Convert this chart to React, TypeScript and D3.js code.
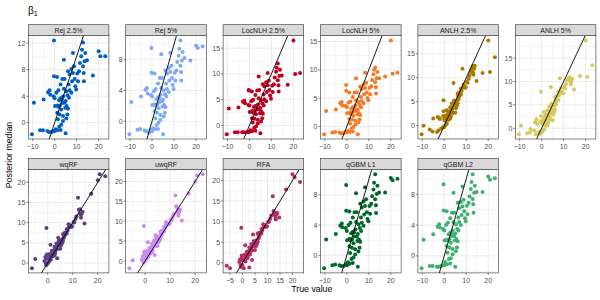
import * as d3 from "d3";

// true values (shared by the ABC-type panels)
const trueValue = [
  -10.3, -9.4, -6.6, -5.3, -5.0, -3.3, -3.0, -2.6, -2.3, -2.0, -1.4, -0.6, -0.5, -0.3, -0.3, 0.0, 0.0, 0.15,
  0.5, 0.8, 1.1, 1.2, 1.2, 1.2, 1.5, 1.7, 1.7, 2.0, 2.1, 2.3, 2.4, 2.7, 2.7, 2.7, 3.0, 3.0, 3.3, 3.5, 3.5,
  3.8, 3.8, 3.9, 4.2, 4.2, 4.5, 4.5, 4.8, 5.0, 5.0, 5.3, 5.3, 5.5, 5.8, 5.9, 6.1, 6.1, 6.4, 6.5, 6.8, 6.8,
  7.6, 7.6, 7.9, 8.3, 8.3, 8.8, 9.1, 9.4, 9.8, 10.3, 10.6, 11.1, 11.5, 12.1, 12.4, 12.9, 12.9, 13.2, 13.3,
  13.6, 13.9, 14.7, 17.4, 20.0, 20.8, 23.0,
];
// true values for the random forest panels
const trueValueRF = [-6.3, -5.0, -1.3, -1.0, -0.8, -0.5, -0.2, ...trueValue.slice(11)];

const rej25 = [
  -1.75, 3.0, -1.15, -1.15, 3.5, -1.25, 4.6, -1.4, 4.9, 4.2, -1.4, -1.25, 4.0, 12.4, 7.0, -1.25, 3.7, 2.5,
  -1.0, 4.5, 6.9, -1.15, 2.6, 1.5, 0.5, 2.4, 4.9, 3.4, -0.6, 1.25, 2.6, -1.1, 3.7, 5.75, -0.3, 2.0, 3.5, 2.95,
  6.6, 1.0, 0.25, 4.0, 5.1, 9.5, 6.6, 3.0, 2.25, -1.6, 3.25, 0.65, 4.75, 2.5, 1.25, 4.15, 7.75, 2.1, 5.75,
  3.75, 7.25, 4.9, 8.1, 4.5, 6.25, 10.5, 7.5, 8.5, 6.6, 5.5, 5.0, 7.4, 6.25, 7.75, 9.0, 10.0, 11.0, 12.1,
  8.5, 7.5, 6.25, 9.25, 10.5, 9.4, 7.1, 10.75, 10.0, 10.0,
];
const rej5 = [
  -1.7, 2.5, -1.1, -1.0, 3.2, -1.2, 4.1, -1.3, 4.3, 3.6, -1.5, -1.1, 3.4, 9.5, 6.3, -1.3, 3.2, 2.1, -0.9,
  3.9, 6.2, -1.0, 2.2, 1.3, 0.4, 2.0, 4.2, 2.9, -0.5, 1.1, 2.2, -1.0, 3.1, 4.9, -0.2, 1.7, 3.0, 2.5, 5.6,
  0.8, 0.2, 3.4, 4.3, 8.7, 5.6, 2.6, 1.9, -1.7, 2.8, 0.6, 4.0, 2.1, 1.1, 3.5, 6.6, 1.8, 4.9, 3.2, 6.2, 4.2,
  6.9, 3.8, 5.3, 8.9, 6.4, 7.2, 5.6, 4.7, 4.2, 6.3, 5.3, 6.6, 7.7, 8.5, 9.4, 10.5, 7.2, 6.4, 5.3, 7.9, 9.0,
  8.2, 7.9, 9.8, 9.5, 9.7,
];
const locnlh25 = [
  -1.7, 3.3, -1.3, -1.3, 3.5, -1.3, 4.6, -1.3, 4.8, 4.3, -1.3, -1.3, 4.0, 6.8, 6.9, -1.2, 3.9, 2.6, -0.9,
  4.7, 6.6, -1.1, 2.8, 1.4, 0.6, 2.5, 5.0, 3.6, -0.5, 1.3, 2.8, -1.0, 3.8, 5.9, -0.2, 2.2, 3.6, 3.1, 6.8,
  1.1, 0.4, 4.1, 5.3, 9.5, 6.9, 3.2, 2.4, -1.5, 3.4, 0.8, 4.9, 2.7, 1.4, 4.3, 8.0, 2.3, 6.0, 3.9, 7.6, 5.1,
  8.4, 4.7, 6.5, 10.2, 7.8, 8.7, 6.9, 5.8, 5.2, 7.7, 6.5, 8.0, 9.3, 10.4, 11.2, 12.0, 8.8, 7.8, 6.6, 9.6,
  10.8, 9.7, 7.9, 16.5, 10.0, 10.2,
];
const locnlh5 = [
  -1.4, 2.7, -1.1, -1.0, 3.0, -1.1, 4.1, -1.2, 4.3, 3.7, -1.2, -1.0, 3.6, 7.3, 6.3, -1.1, 3.4, 2.3, -0.8,
  4.2, 6.0, -1.0, 2.4, 1.3, 0.5, 2.2, 4.4, 3.1, -0.4, 1.2, 2.4, -0.9, 3.4, 5.2, -0.1, 1.9, 3.2, 2.7, 6.0,
  1.0, 0.3, 3.7, 4.6, 8.5, 6.0, 2.8, 2.1, -1.4, 3.0, 0.7, 4.3, 2.3, 1.2, 3.8, 7.0, 2.0, 5.2, 3.4, 6.6, 4.5,
  7.4, 4.1, 5.7, 9.5, 6.8, 7.7, 6.0, 5.0, 4.6, 6.8, 5.7, 7.1, 8.2, 9.2, 10.0, 10.4, 7.8, 6.9, 5.8, 8.5, 9.6,
  8.5, 8.8, 15.2, 9.3, 9.5,
];
const anlh25 = [
  -1.8, 0.0, -0.8, -1.2, 1.5, -1.3, 1.8, -1.0, 1.6, 1.4, -0.6, -0.4, 2.0, 5.3, 3.0, -0.3, 1.42, 1.09, 0.09,
  2.2, 3.23, 0.47, 1.79, 1.4, 1.24, 2.03, 2.9, 2.57, 1.23, 2.0, 2.54, 1.43, 3.11, 3.83, 1.9, 2.7, 3.41, 3.35,
  4.62, 2.85, 2.59, 3.96, 4.54, 8.9, 5.25, 3.99, 3.91, 2.69, 4.39, 3.66, 5.1, 4.44, 4.19, 5.27, 6.65, 4.67,
  6.14, 5.5, 6.91, 6.09, 7.71, 6.45, 7.25, 11.9, 7.94, 8.6, 8.12, 7.92, 8.0, 9.15, 8.94, 9.78, 10.46, 11.19,
  11.72, 12.42, 11.16, 11.0, 10.64, 11.86, 12.49, 9.3, 11.0, 17.8, 11.2, 14.3,
];
const anlh5 = [
  -1.3, 0.6, -1.1, -0.9, -0.2, -0.5, 1.3, -1.3, 1.9, 0.9, -0.8, -1.2, 1.5, 7.8, 2.6, -0.9, 1.36, 0.88, -0.56,
  2.19, 3.49, -0.24, 1.53, 1.01, 0.71, 1.72, 2.89, 2.36, 0.53, 1.51, 2.21, 0.64, 2.89, 3.86, 1.18, 2.26,
  3.13, 2.99, 4.7, 2.24, 1.89, 3.71, 4.4, 8.8, 5.27, 3.58, 3.39, 1.7, 3.98, 2.92, 4.85, 3.91, 3.49, 4.91,
  6.71, 4.06, 5.94, 5.06, 6.87, 5.77, 7.73, 6.03, 7.03, 10.7, 7.84, 8.59, 7.87, 7.52, 7.51, 8.92, 8.55, 9.54,
  10.35, 10.5, 10.8, 10.9, 10.1, 9.8, 9.4, 10.4, 10.6, 8.3, 11.2, 18.8, 11.0, 13.5,
];
const wqrf = [
  -1.3, 1.0, 0.5, 1.5, 0.0, 8.7, 1.2, -0.58, 1.08, 1.9, 2.13, -0.13, 1.36, 1.1, 0.32, 2.2, 4.5, 0.8, 1.93,
  1.6, 1.52, 2.24, 3.0, 2.77, 1.64, 2.35, 2.83, 1.94, 3.38, 4.0, 2.41, 3.1, 3.77, 3.76, 4.85, 3.4, 1.2, 4.37,
  4.93, 6.25, 5.61, 4.52, 4.52, 3.52, 4.97, 4.42, 5.65, 5.12, 4.97, 5.92, 7.15, 5.45, 6.78, 6.25, 7.52, 6.82,
  8.38, 7.3, 8.05, 9.63, 8.73, 9.4, 9.05, 8.95, 9.1, 10.19, 10.07, 10.9, 11.58, 16.2, 13.2, 13.3, 12.3, 12.0,
  11.2, 12.2, 12.7, 9.8, 17.2, 20.5, 22.0, 21.5,
];
const uwqrf = [
  -1.8, 0.2, 0.3, 1.2, -0.2, 8.8, 1.0, -0.4, 1.3, 2.1, 2.4, 0.1, 1.6, 1.3, 0.5, 2.5, 4.7, 1.0, 2.2, 1.8, 1.7,
  2.5, 3.3, 3.0, 1.9, 2.6, 3.1, 2.2, 3.6, 4.3, 2.7, 3.4, 4.0, 4.0, 5.1, 3.7, 1.5, 4.6, 5.2, 6.5, 5.9, 4.8,
  4.8, 3.8, 5.2, 4.7, 5.9, 5.4, 5.2, 6.2, 7.4, 5.7, 7.0, 6.5, 7.7, 7.0, 8.6, 7.5, 8.3, 9.8, 9.0, 9.6, 9.3,
  9.2, 9.4, 10.4, 10.3, 11.1, 11.8, 16.5, 13.8, 13.2, 12.5, 12.1, 11.4, 12.3, 12.9, 10.2, 17.0, 20.0, 21.5,
  21.8,
];
const rfa = [
  -0.7, -1.3, 0.2, 0.8, -0.5, 8.5, 0.6, -1.0, 0.8, 1.5, 1.8, -0.5, 1.0, 0.7, -1.3, 1.9, 4.3, 0.3, 1.5, 1.2,
  1.1, 1.9, 2.7, 2.4, 1.2, 1.9, 2.5, -1.1, 3.0, 3.7, 2.0, 2.7, 3.4, 3.4, 4.6, 3.0, 0.7, 4.0, 4.6, 6.9, 5.3,
  4.2, 4.2, 3.1, 4.6, 4.0, 5.3, 4.8, 4.6, 5.6, 7.1, 5.1, 6.8, 6.0, 7.3, 6.6, 8.2, 7.1, 7.9, 9.4, 8.6, 9.2,
  8.9, 8.7, 8.9, 10.0, 9.9, 10.7, 11.5, 16.2, 12.6, 12.2, 11.6, 11.0, 10.5, 11.8, 12.1, 11.0, 17.8, 21.5,
  20.8, 19.6,
];
const qgbmL1 = [
  -1.7, 2.1, -1.3, -1.2, 2.8, -1.3, 3.9, -1.4, 4.2, 3.7, -1.4, -1.2, 3.6, 9.3, 5.9, -1.3, 3.2, 2.0, -0.9,
  4.0, 5.8, -1.1, 2.2, 1.2, 0.3, 2.0, 4.3, 2.9, -0.5, 1.0, 2.1, -1.0, 3.1, 5.0, -0.3, 1.6, 3.0, 2.5, 5.7,
  0.8, 0.1, 3.4, 4.4, 8.2, 5.7, 2.5, 1.9, -1.5, 2.8, 0.5, 4.1, 2.1, 1.0, 3.6, 6.8, 1.8, 5.0, 3.2, 6.3, 4.3,
  7.1, 3.9, 5.4, 9.0, 6.5, 7.4, 5.7, 4.8, 4.5, 6.5, 5.5, 6.8, 7.8, 8.7, 9.6, 10.7, 7.4, 6.6, 5.6, 8.1, 9.2,
  8.3, 8.3, 10.2, 9.9, 10.1,
];
const qgbmL2 = [
  -1.6, 2.1, -1.3, -1.3, 2.8, -1.4, 3.8, -1.4, 4.1, 3.7, -1.3, -1.2, 3.5, 9.3, 5.9, -1.2, 3.3, 2.0, -0.8,
  4.0, 5.8, -1.1, 2.1, 1.3, 0.4, 2.0, 4.3, 2.8, -0.4, 1.1, 2.2, -1.0, 3.0, 4.9, -0.3, 1.7, 3.0, 2.6, 5.6,
  0.9, 0.2, 3.3, 4.4, 8.2, 5.6, 2.6, 2.0, -1.4, 2.9, 0.6, 4.1, 2.2, 1.1, 3.5, 6.9, 1.9, 5.0, 3.3, 6.2, 4.4,
  7.0, 4.0, 5.3, 9.0, 6.4, 7.3, 5.8, 4.9, 4.5, 6.5, 5.4, 6.9, 7.7, 8.7, 9.6, 10.6, 7.4, 6.7, 5.6, 8.2, 9.1,
  8.3, 8.3, 10.3, 9.9, 10.1,
];

const methods = ["Rej 2.5%", "Rej 5%", "LocNLH 2.5%", "LocNLH 5%", "ANLH 2.5%", "ANLH 5%", "wqRF", "uwqRF", "RFA", "qGBM L1", "qGBM L2"];
const medians = [rej25, rej5, locnlh25, locnlh5, anlh25, anlh5, wqrf, uwqrf, rfa, qgbmL1, qgbmL2];
const truths = [trueValue, trueValue, trueValue, trueValue, trueValue, trueValue, trueValueRF, trueValueRF, trueValueRF, trueValue, trueValue];
const colors = ["#0060C8", "#7EA9F4", "#BF0020", "#F47B25", "#A97A00", "#D6C95D", "#5B3F82", "#C88BF0", "#B0306A", "#00692A", "#3CB26E"];
const xTicks = [
  [-10, 0, 10, 20], [-10, 0, 10, 20], [-10, 0, 10, 20], [-10, 0, 10, 20], [-10, 0, 10, 20], [-10, 0, 10, 20],
  [0, 10, 20], [0, 10, 20], [-5, 0, 5, 10, 15, 20], [-10, 0, 10, 20], [-10, 0, 10, 20],
];
const yTicks = [
  [0, 4, 8, 12], [0, 4, 8], [0, 5, 10, 15], [0, 5, 10, 15], [0, 5, 10, 15], [0, 5, 10, 15],
  [0, 5, 10, 15, 20], [0, 5, 10, 15, 20], [0, 5, 10, 15, 20], [0, 4, 8], [0, 4, 8],
];

const FONT = "'Liberation Sans', Arial, Helvetica, sans-serif";
const LEFT0 = 28.3;
const PITCH = 97.4;
const PW = 80.6;
const ROW_TOP = [24.7, 158.6];
const STRIP = 11;
const PH = 103.3;
const fmt = d3.format("d");

const padded = (vals: number[]) => {
  const [a, b] = d3.extent(vals) as [number, number];
  const p = (b - a) * 0.05;
  return [a - p, b + p];
};

const minorOf = (br: number[], dom: number[]) => {
  const step = br[1] - br[0];
  const out: number[] = [];
  for (let k = -1; k < br.length; k++) {
    const v = br[0] + (k + 0.5) * step;
    if (v >= dom[0] && v <= dom[1]) out.push(v);
  }
  return out;
};

function Panel({ i }: { i: number }) {
  const col = i % 6;
  const row = Math.floor(i / 6);
  const left = LEFT0 + col * PITCH;
  const top = ROW_TOP[row] + STRIP;
  const bottom = top + PH;
  const xs = truths[i];
  const ys = medians[i];
  const xDom = padded(xs);
  const yDom = padded(ys);
  const x = d3.scaleLinear().domain(xDom).range([left, left + PW]);
  const y = d3.scaleLinear().domain(yDom).range([bottom, top]);
  const xb = xTicks[i].filter((v) => v >= xDom[0] && v <= xDom[1]);
  const yb = yTicks[i].filter((v) => v >= yDom[0] && v <= yDom[1]);
  const lo = Math.min(xDom[0], yDom[0]);
  const hi = Math.max(xDom[1], yDom[1]);
  const clipId = `clip-${i}`;
  return (
    <g>
      <defs>
        <clipPath id={clipId}>
          <rect x={left} y={top} width={PW} height={PH} />
        </clipPath>
      </defs>
      <rect x={left} y={top} width={PW} height={PH} fill="#fff" />
      {minorOf(xTicks[i], xDom).map((v) => (
        <line key={"xm" + v} x1={x(v)} x2={x(v)} y1={top} y2={bottom} stroke="#EBEBEB" strokeWidth={0.5} />
      ))}
      {minorOf(yTicks[i], yDom).map((v) => (
        <line key={"ym" + v} x1={left} x2={left + PW} y1={y(v)} y2={y(v)} stroke="#EBEBEB" strokeWidth={0.5} />
      ))}
      {xb.map((v) => (
        <line key={"xg" + v} x1={x(v)} x2={x(v)} y1={top} y2={bottom} stroke="#EBEBEB" strokeWidth={1} />
      ))}
      {yb.map((v) => (
        <line key={"yg" + v} x1={left} x2={left + PW} y1={y(v)} y2={y(v)} stroke="#EBEBEB" strokeWidth={1} />
      ))}
      <g clipPath={`url(#${clipId})`}>
        {xs.map((xv, k) => (
          <circle key={k} cx={x(xv)} cy={y(ys[k])} r={2} fill={colors[i]} />
        ))}
        <line x1={x(lo)} y1={y(lo)} x2={x(hi)} y2={y(hi)} stroke="#000" strokeWidth={0.9} />
      </g>
      <rect x={left} y={top} width={PW} height={PH} fill="none" stroke="#333" strokeWidth={0.6} />
      <rect x={left} y={ROW_TOP[row]} width={PW} height={STRIP} fill="#D9D9D9" stroke="#333" strokeWidth={0.6} />
      <text x={left + PW / 2} y={ROW_TOP[row] + STRIP / 2 + 2.5} textAnchor="middle" fontSize={7} fill="#1A1A1A" fontFamily={FONT}>
        {methods[i]}
      </text>
      {xb.map((v) => (
        <g key={"xt" + v}>
          <line x1={x(v)} x2={x(v)} y1={bottom} y2={bottom + 2} stroke="#333" strokeWidth={0.6} />
          <text x={x(v)} y={bottom + 9.8} textAnchor="middle" fontSize={7} fill="#4D4D4D" fontFamily={FONT}>
            {fmt(v)}
          </text>
        </g>
      ))}
      {yb.map((v) => (
        <g key={"yt" + v}>
          <line x1={left - 2} x2={left} y1={y(v)} y2={y(v)} stroke="#333" strokeWidth={0.6} />
          <text x={left - 3} y={y(v) + 2.5} textAnchor="end" fontSize={7} fill="#4D4D4D" fontFamily={FONT}>
            {fmt(v)}
          </text>
        </g>
      ))}
    </g>
  );
}

export default function App() {
  return (
    <svg width={600} height={300} style={{ display: "block", position: "absolute", left: 0, top: 0, background: "#fff" }}>
      <rect width={600} height={300} fill="#fff" />
      <text x={28} y={13.5} fontSize={10} fill="#000" fontFamily={FONT}>
        β<tspan fontSize={7} dy={2.5}>1</tspan>
      </text>
      {methods.map((_, i) => (
        <Panel key={i} i={i} />
      ))}
      <text transform="translate(11.5,155) rotate(-90)" textAnchor="middle" fontSize={8.8} fill="#000" fontFamily={FONT}>
        Posterior median
      </text>
      <text x={311.8} y={291.5} textAnchor="middle" fontSize={8.8} fill="#000" fontFamily={FONT}>
        True value
      </text>
    </svg>
  );
}
